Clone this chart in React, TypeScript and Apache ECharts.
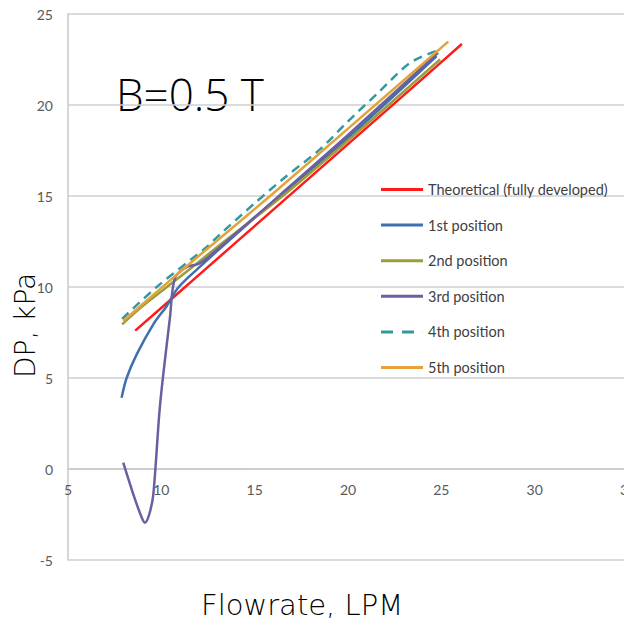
import React, { useEffect, useRef } from "react";
import * as echarts from "echarts";

// ---- Data (Flowrate LPM, DP kPa) ----
const seriesNames = [
  "Theoretical (fully developed)",
  "1st position",
  "2nd position",
  "3rd position",
  "4th position",
  "5th position",
];

const theoretical: number[][] = [
  [8.6, 7.6], [12, 10.65], [16, 14.25], [20, 17.85], [24, 21.45], [26.1, 23.35],
];
const pos1: number[][] = [
  [7.87, 3.92], [8.14, 5.0], [8.68, 6.3], [9.57, 7.95], [10.29, 8.96], [10.9, 9.96],
  [12, 11.05], [14, 12.9], [16.35, 15.0], [20, 18.2], [24.75, 22.69],
];
const pos2: number[][] = [
  [7.9, 7.95], [9, 8.95], [10.3, 10.0], [11.36, 10.85], [13.3, 12.45], [16.5, 15.0],
  [20, 18.05], [24.93, 22.5],
];
const pos3: number[][] = [
  [7.96, 0.35], [8.5, -1.39], [8.95, -2.67], [9.12, -2.95], [9.35, -2.5], [9.57, -1.4],
  [9.93, 3.5], [10.46, 8.3], [10.73, 10.5], [11.36, 11.1], [12.07, 11.3], [14, 12.95],
  [16.35, 15.05], [20, 18.35], [24.82, 22.87],
];
const pos4: number[][] = [
  [7.9, 8.25], [9.75, 10.0], [12.43, 12.2], [13.14, 12.89], [14.93, 14.54], [16.71, 16.1],
  [18.5, 17.56], [19.93, 19.03], [21.71, 20.77], [23.32, 22.31], [24.76, 22.98],
];
const pos5: number[][] = [
  [7.96, 8.13], [10, 9.95], [12, 11.7], [16, 15.15], [20, 18.7], [25.37, 23.48],
];

const allData = [theoretical, pos1, pos2, pos3, pos4, pos5];
const colors = ["#FF1A1A", "#3F6FAF", "#9C9D3A", "#6A5FA0", "#3399A0", "#E3A33A"];

const xMin = 5, xMax = 35, xStep = 5;
const yMin = -5, yMax = 25, yStep = 5;

const titleText = "B=0.5 T";
const xTitle = "Flowrate, LPM";
const yTitle = "DP, kPa";

const GRID_TOP = 14;
const GRID_BOTTOM = 63;
const CHART_H = 623;

export default function App() {
  const ref = useRef<HTMLDivElement>(null);
  useEffect(() => {
    if (!ref.current) return;
    const chart = echarts.init(ref.current, undefined, { renderer: "svg" });
    const plotH = CHART_H - GRID_TOP - GRID_BOTTOM;
    // shift the x axis (line + labels) up to y = 0, as in the reference
    const zeroOffset = -plotH * ((0 - yMin) / (yMax - yMin));
    const series = allData.map((d, i) => ({
      name: seriesNames[i],
      type: "line",
      data: d,
      smooth: 0.3,
      symbol: "none",
      showSymbol: false,
      color: colors[i],
      lineStyle: {
        color: colors[i],
        width: 2.5,
        type: i === 4 ? [9, 6] : "solid",
      },
    }));
    const solidIcon = "path://M0,0h42v3H0z";
    const dashIcon = "path://M0,0h12v3H0z M21,0h12v3H21z M41.9,0h0.1v3h-0.1z";
    chart.setOption({
      animation: false,
      backgroundColor: "#ffffff",
      grid: {
        left: 68,
        top: GRID_TOP,
        right: -4,
        bottom: GRID_BOTTOM,
        containLabel: false,
        outerBoundsMode: "none",
      },
      xAxis: {
        type: "value",
        min: xMin,
        max: xMax,
        interval: xStep,
        offset: zeroOffset,
        axisLine: { onZero: false, lineStyle: { color: "#C8C8C8", width: 1.5 } },
        axisTick: { show: false },
        splitLine: { show: false },
        axisLabel: { color: "#595959", fontSize: 14, fontFamily: "Lato", margin: 13 },
      },
      yAxis: {
        type: "value",
        min: yMin,
        max: yMax,
        interval: yStep,
        axisLine: { show: true, onZero: false, lineStyle: { color: "#C8C8C8", width: 1.5 } },
        axisTick: { show: false },
        splitLine: { lineStyle: { color: "#CFCFCF", width: 1.5 } },
        axisLabel: { color: "#595959", fontSize: 14, fontFamily: "Lato", margin: 15 },
      },
      legend: {
        orient: "vertical",
        left: 381,
        top: 182,
        padding: 0,
        itemWidth: 42,
        itemHeight: 3,
        itemGap: 20.6,
        textStyle: { fontFamily: "Lato", fontSize: 14.5, lineHeight: 15, color: "#404040" },
        data: seriesNames.map((n, i) => ({ name: n, icon: i === 4 ? dashIcon : solidIcon })),
      },
      graphic: [
        {
          type: "text",
          x: 116,
          y: 93.5,
          style: {
            text: titleText,
            font: "300 44px 'Open Sans'",
            fill: "#000",
            textVerticalAlign: "middle",
          },
        },
        {
          type: "text",
          x: 201,
          y: 605,
          style: {
            text: xTitle,
            font: "200 29px 'DejaVu Sans'",
            lineHeight: 30,
            fill: "#000",
            textVerticalAlign: "middle",
          },
        },
        {
          type: "text",
          x: 25,
          y: 378,
          rotation: Math.PI / 2,
          style: {
            text: yTitle,
            font: "200 28px 'DejaVu Sans'",
            fill: "#000",
            textAlign: "left",
            textVerticalAlign: "middle",
          },
        },
      ],
      series,
    });
    return () => chart.dispose();
  }, []);
  return (
    <div
      ref={ref}
      style={{ position: "fixed", left: 0, top: 0, width: 624, height: 623 }}
    />
  );
}
